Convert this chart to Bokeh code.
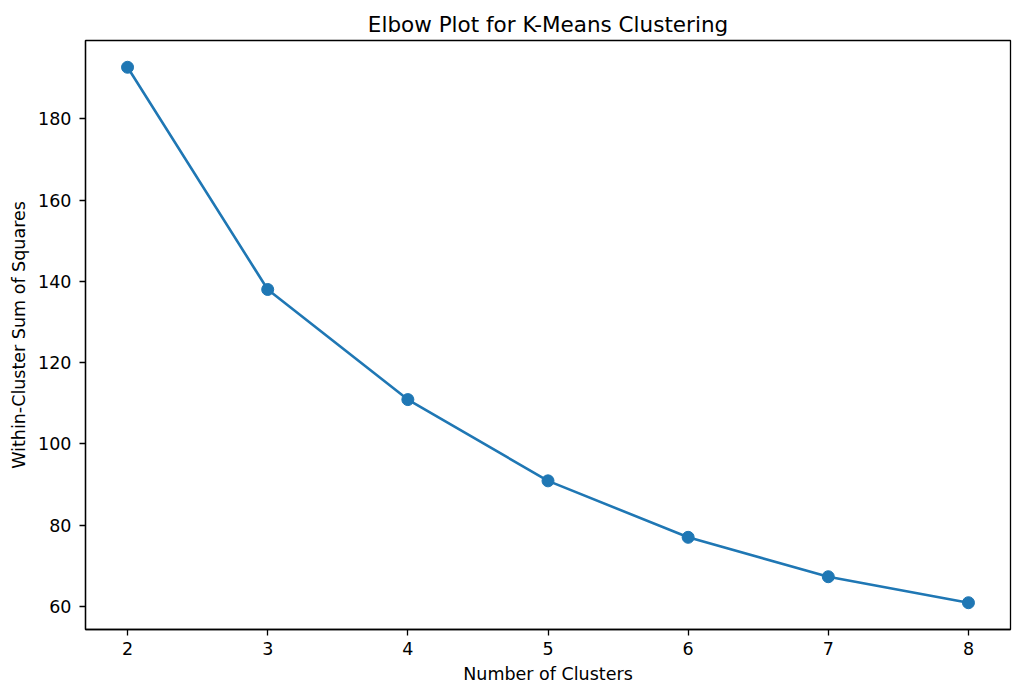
from bokeh.plotting import figure
from bokeh.models import Range1d, FixedTicker
from bokeh.embed import file_html
from bokeh.resources import INLINE

# Elbow plot data
clusters = [2, 3, 4, 5, 6, 7, 8]
wcss = [192.7, 138.0, 110.9, 90.9, 77.0, 67.3, 60.9]
y_ticks = [60, 80, 100, 120, 140, 160, 180]

# matplotlib-style 5% margins
xpad = (max(clusters) - min(clusters)) * 0.05
ypad = (max(wcss) - min(wcss)) * 0.05

p = figure(width=1024, height=698, output_backend="svg", toolbar_location=None,
           x_range=Range1d(min(clusters) - xpad, max(clusters) + xpad),
           y_range=Range1d(min(wcss) - ypad, max(wcss) + ypad),
           title="Elbow Plot for K-Means Clustering",
           min_border_left=85, min_border_right=14, min_border_top=40, min_border_bottom=69)

p.line(clusters, wcss, line_color="#1f77b4", line_width=2.6)
p.scatter(clusters, wcss, size=12, fill_color="#1f77b4", line_color="#1f77b4")

font = "DejaVu Sans"
p.title.text_font = font
p.title.text_font_size = "21.5px"
p.title.text_font_style = "normal"
p.title.align = "center"
p.title.text_color = "black"
p.title.standoff = 8

p.xaxis.ticker = FixedTicker(ticks=clusters)
p.yaxis.ticker = FixedTicker(ticks=y_ticks)
p.xaxis.axis_label = "Number of Clusters"
p.yaxis.axis_label = "Within-Cluster Sum of Squares"

for ax in [p.xaxis[0], p.yaxis[0]]:
    ax.axis_label_text_font = font
    ax.axis_label_text_font_size = "17.5px"
    ax.axis_label_text_font_style = "normal"
    ax.axis_label_text_color = "black"
    ax.major_label_text_font = font
    ax.major_label_text_font_size = "17.5px"
    ax.major_label_text_color = "black"
    ax.major_tick_in = 0
    ax.major_tick_out = 6
    ax.minor_tick_out = 0
    ax.minor_tick_in = 0
    ax.major_tick_line_color = "black"
    ax.major_tick_line_width = 1.3
    ax.axis_line_color = "black"
    ax.axis_line_width = 1.3
    ax.axis_label_standoff = 6

p.xaxis.major_label_standoff = 6
p.yaxis.major_label_standoff = 8
p.yaxis.major_label_orientation = "horizontal"

p.xgrid.visible = False
p.ygrid.visible = False
p.outline_line_color = "black"
p.outline_line_width = 1.3
p.outline_line_alpha = 1.0
p.background_fill_color = "white"
p.border_fill_color = "white"

open("out.html", "w").write(file_html(p, INLINE))
